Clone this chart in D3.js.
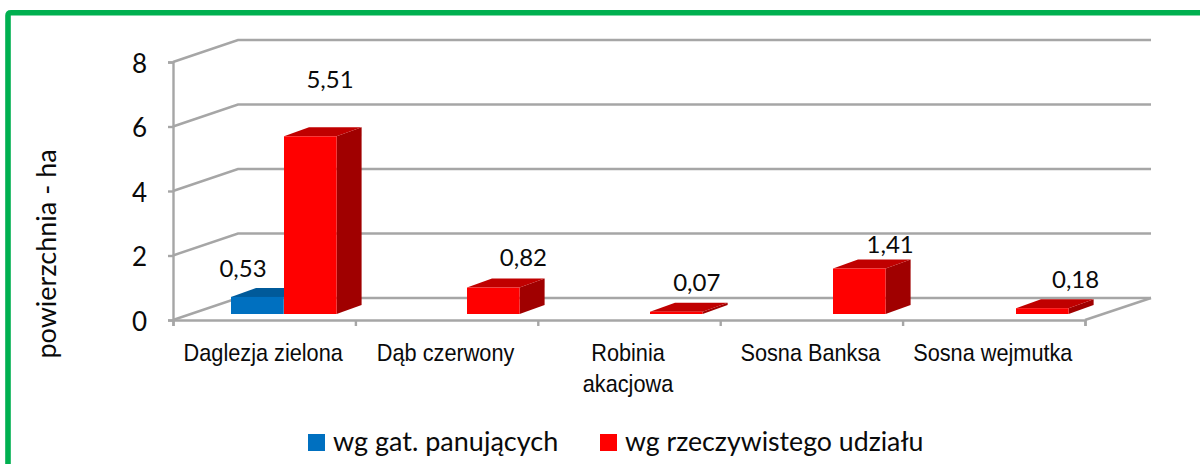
<!DOCTYPE html>
<html>
<head>
<meta charset="utf-8">
<script src="https://cdn.jsdelivr.net/npm/d3@7"></script>
<style>
  html, body { margin: 0; padding: 0; background: #fff; overflow: hidden; }
  text { fill: #0a0a0a; }
</style>
</head>
<body>
<div id="chart"></div>
<script>
// chart data
const categories = ["Daglezja zielona", "Dąb czerwony", "Robinia akacjowa", "Sosna Banksa", "Sosna wejmutka"];
const seriesNames = ["wg gat. panujących", "wg rzeczywistego udziału"];
const seriesColors = ["#0070C0", "#FF0000"];
const seriesTops = ["#005A9A", "#C00000"];
const seriesSides = ["#004A80", "#A00000"];
const panujacych = [0.53, 0, 0, 0, 0];
const rzeczywisty = [5.51, 0.82, 0.07, 1.41, 0.18];
const yTicks = [0, 2, 4, 6, 8];

const width = 1200;
const height = 464;
const gridColor = "#A6A6A6";
const labelFont = "Lato, 'Open Sans', sans-serif";

const svg = d3.select("#chart").append("svg")
  .attr("width", width)
  .attr("height", height)
  .attr("viewBox", [0, 0, width, height])
  .style("display", "block");

// frame, only the top and left edges are in the picture
svg.append("path")
  .attr("d", "M8,464V15.5Q8,12.7 11,12.7H1200")
  .attr("fill", "none")
  .attr("stroke", "#00B050")
  .attr("stroke-width", 5.6);

const x = d3.scaleBand().domain(d3.range(categories.length)).range([173, 1085]);
// bars step a little wider than the ticks in the picture
const xBar = d3.scaleBand().domain(d3.range(categories.length)).range([173, 1088]);
const y = d3.scaleLinear().domain([0, 8]).range([320, 62]);

// depth of the chart floor and of a single bar
const depth = { x: 65, y: -22 };
const barDepth = { x: 25, y: -9 };
const barLift = 6;
const barWidth = 52.6;

// back wall gridlines and the slanted lines on the side wall
const grid = svg.append("g").attr("stroke", gridColor).attr("stroke-width", 2.4).attr("fill", "none");
yTicks.forEach((t) => {
  grid.append("path")
    .attr("d", `M173,${y(t)}L${173 + depth.x},${y(t) + depth.y}H${1085 + depth.x + 1}`);
});
// floor right edge
grid.append("path").attr("d", `M1085,${y(0)}L${1085 + depth.x + 1},${y(0) + depth.y}`);

// axes
const yAxis = d3.axisLeft(y).tickValues(yTicks).tickSize(5).tickPadding(21);
const gy = svg.append("g").attr("transform", "translate(173,0)").call(yAxis);
gy.selectAll("path, line").attr("stroke", gridColor).attr("stroke-width", 2.4);
gy.selectAll("text").attr("font-family", labelFont).attr("font-size", 26).attr("dy", "0.4em").style("fill", "#0a0a0a");

const xTickAxis = d3.axisBottom(d3.scaleLinear().domain([0, categories.length]).range([173, 1085]))
  .ticks(categories.length).tickSize(6).tickFormat("");
const gx = svg.append("g").attr("transform", `translate(0,${y(0)})`).call(xTickAxis);
gx.selectAll("path, line").attr("stroke", gridColor).attr("stroke-width", 2.4);

// category labels, narrow type
const catLines = [["Daglezja zielona"], ["Dąb czerwony"], ["Robinia", "akacjowa"], ["Sosna Banksa"], ["Sosna wejmutka"]];
const catText = svg.append("g");
catLines.forEach((lines, i) => {
  lines.forEach((line, j) => {
    const cx = x(i) + x.bandwidth() / 2 - 1;
    catText.append("text")
      .attr("transform", `translate(${cx},${361 + j * 31}) scale(0.89,1)`)
      .attr("text-anchor", "middle")
      .attr("font-family", "'Liberation Sans', Arial, sans-serif")
      .attr("font-size", 24.4)
      .text(line);
  });
});

// bars, back to front
function drawBar(g, i, value, s) {
  const x0 = xBar(i) + 58 + s * 53;
  const x1 = x0 + barWidth;
  const base = y(0) - barLift;
  const top = base - (y(0) - y(value));
  const d = barDepth;
  g.append("path")
    .attr("d", `M${x1},${top}L${x1 + d.x},${top + d.y}V${base + d.y}L${x1},${base}Z`)
    .attr("fill", seriesSides[s]);
  g.append("path")
    .attr("d", `M${x0},${top}L${x0 + d.x},${top + d.y}H${x1 + d.x}L${x1},${top}Z`)
    .attr("fill", seriesTops[s]);
  g.append("rect")
    .attr("x", x0).attr("y", top)
    .attr("width", x1 - x0).attr("height", base - top)
    .attr("fill", seriesColors[s]);
}

const bars = svg.append("g");
panujacych.forEach((v, i) => { if (v > 0) drawBar(bars, i, v, 0); });
rzeczywisty.forEach((v, i) => { drawBar(bars, i, v, 1); });

// value labels were moved by hand in the picture, so each has its own offset
const fmt = (v) => v.toFixed(2).replace(".", ",");
const values = svg.append("g")
  .attr("font-family", labelFont)
  .attr("font-size", 24)
  .attr("text-anchor", "middle");
values.append("text")
  .attr("x", x(0) + 70)
  .attr("y", y(panujacych[0]) - 26)
  .text(fmt(panujacych[0]));
const redDx = [157, 168, 159, 170, 173];
const redDy = [-54, -28, -27, -22, -26];
rzeczywisty.forEach((v, i) => {
  values.append("text")
    .attr("x", x(i) + redDx[i])
    .attr("y", y(v) + redDy[i])
    .text(fmt(v));
});

// y axis title
svg.append("text")
  .attr("transform", "translate(56,254) rotate(-90)")
  .attr("text-anchor", "middle")
  .attr("font-family", labelFont)
  .attr("font-size", 27)
  .text("powierzchnia - ha");

// legend
const legendX = [308, 600];
const legendSize = [27, 26.7];
seriesNames.forEach((name, s) => {
  svg.append("rect")
    .attr("x", legendX[s]).attr("y", 434)
    .attr("width", 17).attr("height", 17)
    .attr("fill", seriesColors[s]);
  svg.append("text")
    .attr("x", legendX[s] + 25).attr("y", 451)
    .attr("font-family", labelFont)
    .attr("font-size", legendSize[s])
    .text(name);
});
</script>
</body>
</html>
